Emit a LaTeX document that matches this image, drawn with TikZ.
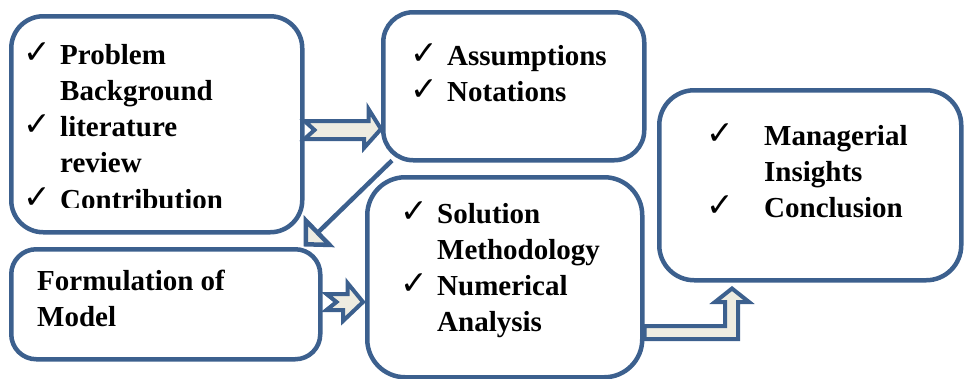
\documentclass[tikz,border=0pt]{standalone}
\usepackage{fontspec}
\setmainfont{Liberation Serif}
\newfontfamily\symfont{DejaVu Sans}
\usepackage{xcolor}
\usetikzlibrary{arrows.meta}
\usetikzlibrary{calc}
\definecolor{frameblue}{RGB}{60,96,142}
\definecolor{cream}{RGB}{238,236,225}
\newcommand{\chk}{\raisebox{1pt}{\symfont\fontsize{33}{33}\selectfont ✓}}
\newcommand{\boxfont}{\fontsize{29}{36.3}\selectfont\bfseries}

\begin{document}
\begin{tikzpicture}[x=1pt,y=-1pt]
                \useasboundingbox (0,0) rectangle (964,378);

                \begin{scope}[every node/.style={draw=frameblue,line width=4.5pt,rounded corners=32pt,anchor=north west,inner sep=0pt}]
                    \node[minimum width=291pt,minimum height=216pt] (bg) at (9,14) {};
                    \node[minimum width=261pt,minimum height=148pt,rounded corners=30pt] (asm) at (381,10) {};
                    \node[minimum width=302pt,minimum height=190pt,rounded corners=35pt] (ins) at (657,88) {};
                    \node[minimum width=309pt,minimum height=110pt,rounded corners=25pt] (mdl) at (9,247) {};
                    \node[minimum width=275pt,minimum height=200pt,rounded corners=38pt] (sol) at (365,175) {};
                \end{scope}

                \begin{scope}[every node/.style={anchor=base west,inner sep=0pt,font=\boxfont}]
                    \begin{scope}
                        \clip (0,0) rectangle (300,207);
                        \node (bgtxt) at (23,64) {\begin{tabular}[t]{@{}p{37pt}@{}l@{}}
                            \chk & Problem\\ & Background\\ \chk & literature\\ & review\\ \chk & Contribution
                        \end{tabular}};
                    \end{scope}
                    \node (asmtxt) at (410,65) {\begin{tabular}[t]{@{}p{37pt}@{}l@{}}
                        \chk & Assumptions\\ \chk & Notations
                    \end{tabular}};
                    \node (instxt) at (706,145) {\begin{tabular}[t]{@{}p{58pt}@{}l@{}}
                        \chk & Managerial\\ & Insights\\ \chk & Conclusion
                    \end{tabular}};
                    \node (mdltxt) at (37,290) {\begin{tabular}[t]{@{}l@{}}
                        Formulation of\\ Model
                    \end{tabular}};
                    \node (soltxt) at (400,223) {\begin{tabular}[t]{@{}p{37pt}@{}l@{}}
                        \chk & Solution\\ & Methodology\\ \chk & Numerical\\ & Analysis
                    \end{tabular}};
                \end{scope}

                \begin{scope}[every path/.style={draw=frameblue,fill=cream,line width=4pt,line join=miter}]
                    % block arrows
                    \path (bg.east |- 0,121) -- ++(64,0) -- ++(0,-12) -- (asm.west |- 0,129)
                        -- ++(-17,19) -- ++(0,-9) -- (bg.east |- 0,139) -- ++(10,-9) -- cycle;
                    \path ($(mdl.east |- 0,294)+(4,0)$) -- ++(21,0) -- ++(0,-11) -- ($(sol.west |- 0,302)+(-2,0)$)
                        -- (343,321) -- ++(0,-11) -- ($(mdl.east |- 0,310)+(4,0)$) -- ++(10,-8) -- cycle;
                    \path (sol.east |- 0,326) -- (725,326) -- (725,302) -- (715,302) -- ($(ins.south -| 732,0)+(0,6)$)
                        -- (749,302) -- (738,302) -- (738,339) -- (sol.east |- 0,339) -- cycle;
                \end{scope}

                \draw[draw=frameblue,line width=4.5pt,-{Triangle[width=44pt,length=22pt,fill=cream]}]
                    ($(asm.south west)+(11,-2)$) -- ($(bg.south east)+(-1,12)$);
            \end{tikzpicture}
\end{document}
